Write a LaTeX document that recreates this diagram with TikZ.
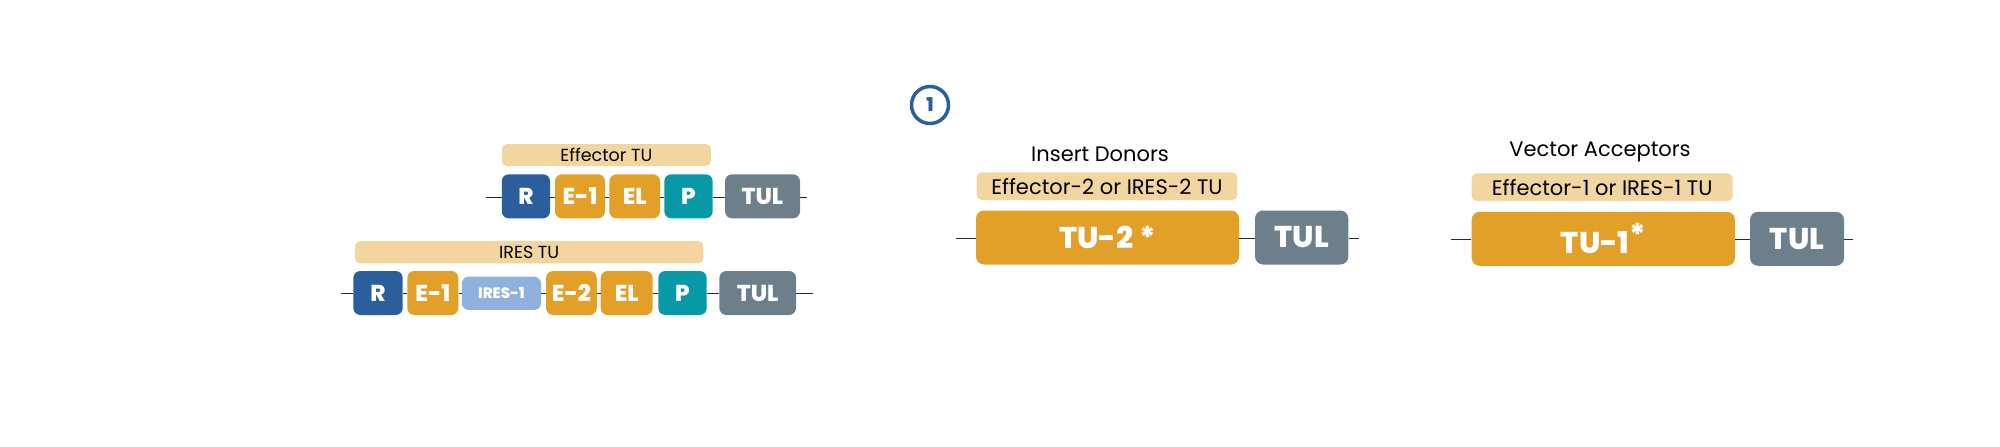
\documentclass[tikz,border=0pt]{standalone}
\usepackage{fontspec}
\setmainfont{Poppins}[BoldFont={* ExtraBold}]
\definecolor{cR}{HTML}{2A5E9C}
\definecolor{cE}{HTML}{E3A029}
\definecolor{cP}{HTML}{0899A6}
\definecolor{cT}{HTML}{6E7F8C}
\definecolor{cI}{HTML}{8FB1DD}
\definecolor{cBar}{HTML}{F3D59F}
\definecolor{cLine}{HTML}{1B2E3C}
\tikzset{
  part/.style={inner sep=0pt, rounded corners=7pt, text=white, font=\fontsize{23}{23}\selectfont\bfseries, minimum height=44pt},
  big/.style={inner sep=0pt, rounded corners=8pt, text=white, font=\fontsize{30}{30}\selectfont\bfseries, minimum height=54pt},
  bar/.style={inner sep=0pt, rounded corners=5pt, fill=cBar, text=black},
  dna/.style={draw=cLine, line width=1.5pt},
  title/.style={font=\fontsize{21}{21}\selectfont, text=black}
}
\begin{document}
\begin{tikzpicture}[x=1pt,y=-1pt]
\useasboundingbox (0,0) rectangle (2000,447);
% ---- Effector TU row
\node[bar, minimum width=209pt, minimum height=22pt, font=\fontsize{17.5}{17.5}\selectfont] (effbar) at (606.4,155) {Effector TU};
\coordinate (a0) at (486,197.7);
\coordinate (a1) at (807,197.7);
\node[part, fill=cR, minimum width=48.3pt] (aR) at (525.9,196.3) {R};
\node[part, fill=cE, minimum width=50pt] (aE) at (580,196.3) {E-1};
\node[part, fill=cE, minimum width=50.7pt] (aEL) at (634.7,196.3) {EL};
\node[part, fill=cP, minimum width=48.4pt] (aP) at (688.5,196.3) {P};
\node[part, fill=cT, minimum width=75pt] (aT) at (762.5,196.3) {TUL};
\draw[dna] (a0) -- (a0 -| aR.west);
\draw[dna] (aR.east |- a0) -- (aE.west |- a0);
\draw[dna] (aE.east |- a0) -- (aEL.west |- a0);
\draw[dna] (aEL.east |- a0) -- (aP.west |- a0);
\draw[dna] (aP.east |- a0) -- (aT.west |- a0);
\draw[dna] (aT.east |- a0) -- (a1);
% ---- IRES TU row
\node[bar, minimum width=348.3pt, minimum height=22.3pt, font=\fontsize{17.5}{17.5}\selectfont] (iresbar) at (529.2,252.2) {IRES TU};
\coordinate (b0) at (341,293.3);
\coordinate (b1) at (813,293.3);
\node[part, fill=cR, minimum width=49.4pt] (bR) at (378,293) {R};
\node[part, fill=cE, minimum width=51pt] (bE) at (432.8,293) {E-1};
\node[part, fill=cI, minimum width=79.3pt, minimum height=33.3pt, font=\fontsize{15}{15}\selectfont\bfseries] (bI) at (501.4,293.3) {IRES-1};
\node[part, fill=cE, minimum width=50.7pt] (bE2) at (571.4,293) {E-2};
\node[part, fill=cE, minimum width=52pt] (bEL) at (626.7,293) {EL};
\node[part, fill=cP, minimum width=48.4pt] (bP) at (682.5,293) {P};
\node[part, fill=cT, minimum width=76.7pt] (bT) at (757.7,293) {TUL};
\draw[dna] (b0) -- (b0 -| bR.west);
\draw[dna] (bR.east |- b0) -- (bE.west |- b0);
\draw[dna] (bE.east |- b0) -- (bI.west |- b0);
\draw[dna] (bI.east |- b0) -- (bE2.west |- b0);
\draw[dna] (bE2.east |- b0) -- (bEL.west |- b0);
\draw[dna] (bEL.east |- b0) -- (bP.west |- b0);
\draw[dna] (bP.east |- b0) -- (bT.west |- b0);
\draw[dna] (bT.east |- b0) -- (b1);
% ---- step marker
\node[circle, draw=cR, line width=3.5pt, minimum size=37pt, inner sep=0pt, text=cR, font=\fontsize{19}{19}\selectfont\bfseries] (one) at (930,105) {1};
% ---- Insert Donors
\node[title] (donT) at (1100,154) {Insert Donors};
\node[bar, minimum width=260.6pt, minimum height=27.7pt, font=\fontsize{21}{21}\selectfont] (donbar) at (1107,186.2) {Effector-2 or IRES-2 TU};
\coordinate (c0) at (956,238.3);
\coordinate (c1) at (1359,238.3);
\node[big, fill=cE, minimum width=263pt] (cTU) at (1107.5,237.5) {TU-2 *};
\node[big, fill=cT, minimum width=93.3pt] (cT) at (1301.7,237.5) {TUL};
\draw[dna] (c0) -- (c0 -| cTU.west);
\draw[dna] (cTU.east |- c0) -- (cT.west |- c0);
\draw[dna] (cT.east |- c0) -- (c1);
% ---- Vector Acceptors
\node[title] (accT) at (1600,152) {Vector Acceptors};
\node[bar, minimum width=261pt, minimum height=27.7pt, font=\fontsize{21}{21}\selectfont] (accbar) at (1602.2,187.2) {Effector-1 or IRES-1 TU};
\coordinate (d0) at (1451,239.3);
\coordinate (d1) at (1853.3,239.3);
\node[big, fill=cE, minimum width=263.3pt] (dTU) at (1603.3,238.8) {TU-1\raisebox{8pt}{*}};
\node[big, fill=cT, minimum width=94pt] (dT) at (1797,238.8) {TUL};
\draw[dna] (d0) -- (d0 -| dTU.west);
\draw[dna] (dTU.east |- d0) -- (dT.west |- d0);
\draw[dna] (dT.east |- d0) -- (d1);
\end{tikzpicture}
\end{document}
